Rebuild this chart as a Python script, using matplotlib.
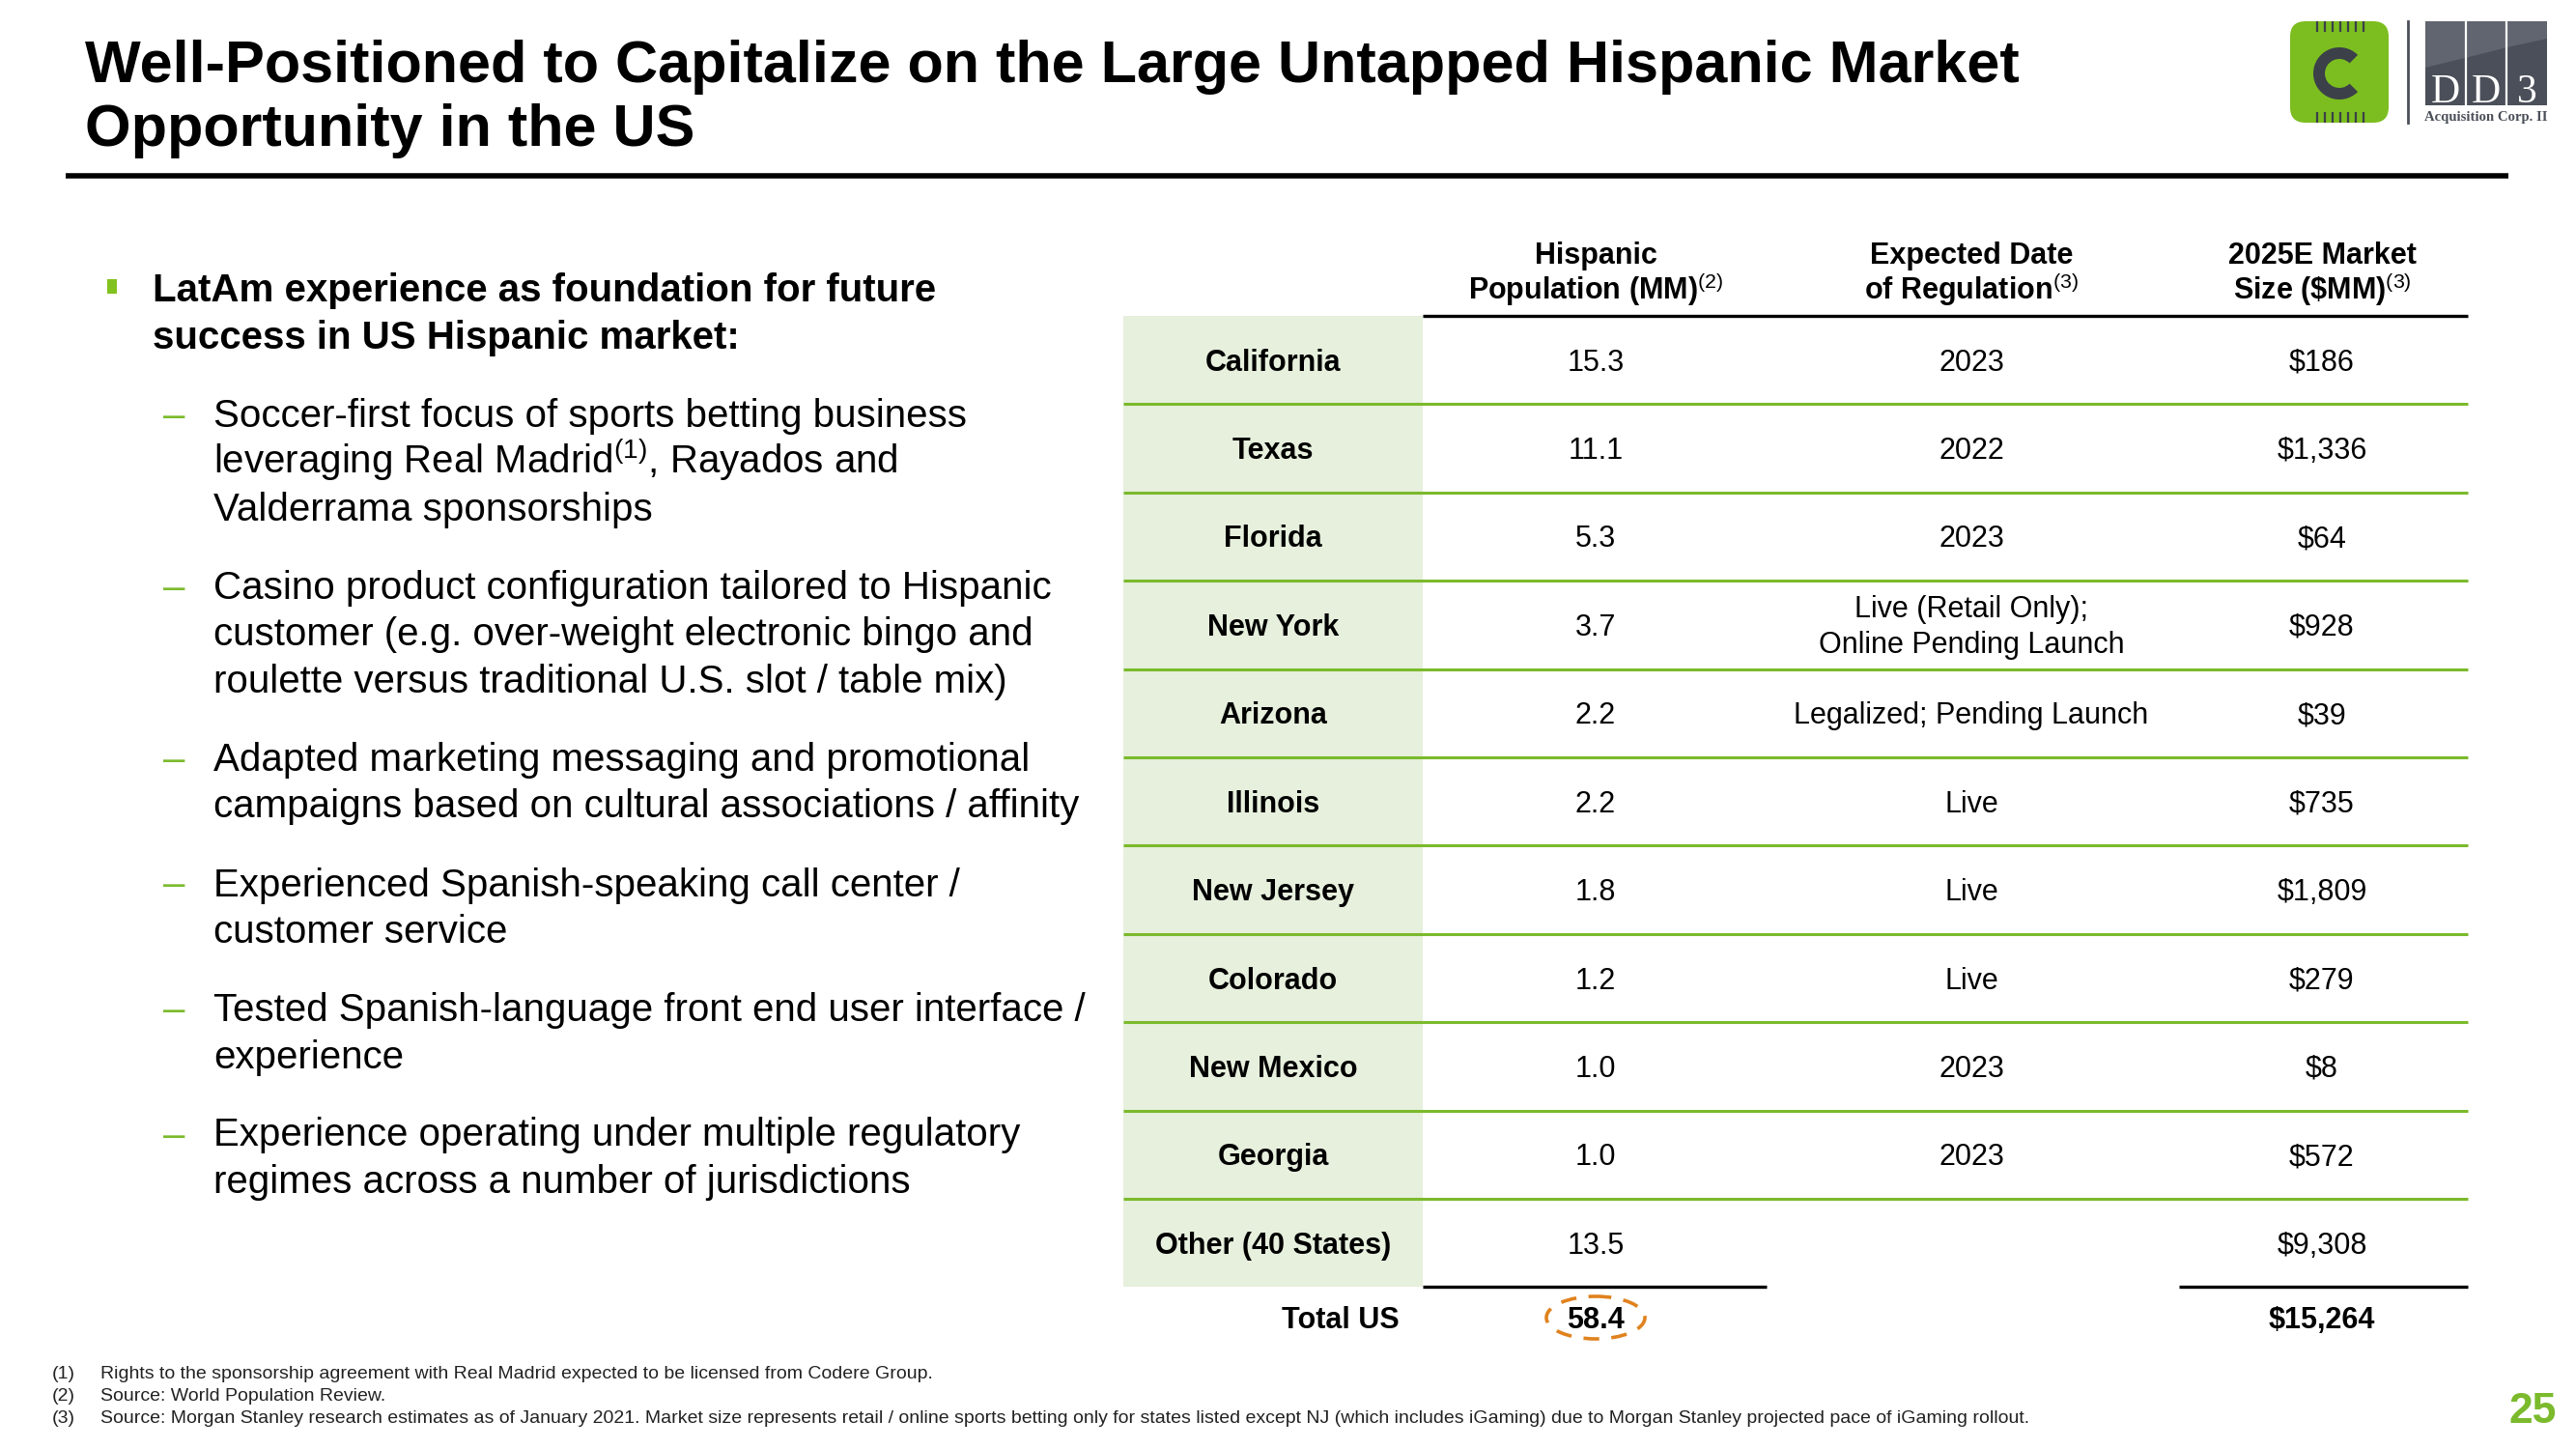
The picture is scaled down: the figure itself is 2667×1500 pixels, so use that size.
import matplotlib
matplotlib.use("Agg")
import matplotlib.pyplot as plt
from matplotlib.patches import Rectangle, FancyBboxPatch, Wedge, Ellipse, Polygon

plt.rcParams["font.family"] = ["Liberation Sans", "DejaVu Sans"]
plt.rcParams["mathtext.fontset"] = "custom"
plt.rcParams["mathtext.rm"] = "Liberation Sans"
plt.rcParams["mathtext.bf"] = "Liberation Sans:bold"

W, H, DPI = 2667, 1500, 200
GREEN = "#7BBA2C"
LABEL_BG = "#E6F0DD"
ORANGE = "#E0821E"
SLATE = "#4B4F59"

# ---- content -------------------------------------------------------------
title_lines = [
    "Well-Positioned to Capitalize on the Large Untapped Hispanic Market",
    "Opportunity in the US",
]
main_bullet = [
    "LatAm experience as foundation for future",
    "success in US Hispanic market:",
]
sub_bullets = [
    ["Soccer-first focus of sports betting business",
     "leveraging Real Madrid$^{\\mathrm{(1)}}$, Rayados and",
     "Valderrama sponsorships"],
    ["Casino product configuration tailored to Hispanic",
     "customer (e.g. over-weight electronic bingo and",
     "roulette versus traditional U.S. slot / table mix)"],
    ["Adapted marketing messaging and promotional",
     "campaigns based on cultural associations / affinity"],
    ["Experienced Spanish-speaking call center /",
     "customer service"],
    ["Tested Spanish-language front end user interface /",
     "experience"],
    ["Experience operating under multiple regulatory",
     "regimes across a number of jurisdictions"],
]

col_headers = [
    ("Hispanic", "Population (MM)$^{\\mathrm{(2)}}$"),
    ("Expected Date", "of Regulation$^{\\mathrm{(3)}}$"),
    ("2025E Market", "Size (\\$MM)$^{\\mathrm{(3)}}$"),
]
states = ["California", "Texas", "Florida", "New York", "Arizona", "Illinois",
          "New Jersey", "Colorado", "New Mexico", "Georgia", "Other (40 States)"]
hispanic_pop = [15.3, 11.1, 5.3, 3.7, 2.2, 2.2, 1.8, 1.2, 1.0, 1.0, 13.5]
reg_dates = ["2023", "2022", "2023", "Live (Retail Only);\nOnline Pending Launch",
             "Legalized; Pending Launch", "Live", "Live", "Live", "2023", "2023", ""]
market_size = [186, 1336, 64, 928, 39, 735, 1809, 279, 8, 572, 9308]
total_label = "Total US"
total_pop = 58.4
total_market = 15264

footnotes = [
    ("(1)", "Rights to the sponsorship agreement with Real Madrid expected to be licensed from Codere Group."),
    ("(2)", "Source: World Population Review."),
    ("(3)", "Source: Morgan Stanley research estimates as of January 2021. Market size represents retail / online "
            "sports betting only for states listed except NJ (which includes iGaming) due to Morgan Stanley "
            "projected pace of iGaming rollout."),
]
page_number = "25"

# ---- canvas in pixel units -------------------------------------------------
fig = plt.figure(figsize=(W / DPI, H / DPI), dpi=DPI)
ax = fig.add_axes([0, 0, 1, 1])
ax.set_xlim(0, W)
ax.set_ylim(H, 0)
ax.axis("off")


def txt(x, y, s, size, **kw):
    # y is the visual centre of the cap height
    ax.text(x, y + 0.36 * size * DPI / 72, s, fontsize=size, va="baseline", **kw)


# title + rule
for i, line in enumerate(title_lines):
    ax.text(88, 85 + i * 66, line, fontsize=22, fontweight="bold", va="baseline")
ax.plot([68, 2597], [182, 182], color="black", lw=2.0, solid_capstyle="butt")

# logo: Codere chip
ax.add_patch(FancyBboxPatch((2371, 22), 102, 105, boxstyle="round,pad=0,rounding_size=16",
                            fc="#7CBD1F", ec="none"))
for k in range(7):
    px = 2399 + k * 8
    ax.plot([px, px], [22, 33], color="#3B4049", lw=0.8, solid_capstyle="butt")
    ax.plot([px, px], [116, 127], color="#3B4049", lw=0.8, solid_capstyle="butt")
ax.add_patch(Wedge((2422, 76), 27, 45, 315, width=12, fc="#3B4049", ec="none"))
ax.plot([2493, 2493], [22, 127], color=SLATE, lw=1.0)
# logo: DD3
ax.add_patch(Rectangle((2511, 22), 126, 87, fc=SLATE, ec="none"))
ax.add_patch(Polygon([(2511, 22), (2637, 22), (2637, 40), (2600, 48), (2560, 58), (2511, 70)],
                     closed=True, fc="#61656F", ec="none"))
for sx in (2553, 2595):
    ax.plot([sx, sx], [22, 109], color="white", lw=0.8)
for cx, ch in zip((2532, 2574, 2616), ("D", "D", "3")):
    ax.text(cx, 106, ch, fontsize=15, color="white", family="Liberation Serif",
            ha="center", va="baseline")
ax.text(2574, 125, "Acquisition Corp. II", fontsize=5.3, color=SLATE, family="Liberation Serif",
        fontweight="bold", ha="center", va="baseline")

# left bullets
LINE_STEP, PARA_GAP = 48.5, 81
BODY = 14.5
y = 298
ax.add_patch(Rectangle((111, y - 9), 10, 15, fc="#82C21E", ec="none"))
for line in main_bullet:
    txt(158, y, line, BODY, fontweight="bold")
    y += LINE_STEP
y += PARA_GAP - LINE_STEP
for para in sub_bullets:
    txt(169, y, "\u2013", BODY, color=GREEN)
    for line in para:
        txt(221, y, line, BODY)
        y += LINE_STEP
    y += PARA_GAP - LINE_STEP

# table
TF = 11
T_LEFT, T_LABEL_R, T_RIGHT = 1163, 1473, 2555
T_TOP, ROW_H = 327, 91.4
col_x = [1318, 1652, 2041, 2404]
n = len(states)
ax.add_patch(Rectangle((T_LEFT, T_TOP), T_LABEL_R - T_LEFT, n * ROW_H, fc=LABEL_BG, ec="none"))
for j, (h1, h2) in enumerate(col_headers):
    txt(col_x[j + 1], 262, h1, TF, fontweight="bold", ha="center")
    txt(col_x[j + 1], 299, h2, TF, fontweight="bold", ha="center")
ax.plot([T_LABEL_R, T_RIGHT], [T_TOP, T_TOP], color="black", lw=1.2, solid_capstyle="butt")

for i in range(n):
    yc = T_TOP + (i + 0.5) * ROW_H
    txt(col_x[0], yc, states[i], TF, fontweight="bold", ha="center")
    txt(col_x[1], yc, f"{hispanic_pop[i]:.1f}", TF, ha="center")
    if "\n" in reg_dates[i]:
        a, b = reg_dates[i].split("\n")
        txt(col_x[2], yc - 18.5, a, TF, ha="center")
        txt(col_x[2], yc + 18.5, b, TF, ha="center")
    elif reg_dates[i]:
        txt(col_x[2], yc, reg_dates[i], TF, ha="center")
    txt(col_x[3], yc, f"${market_size[i]:,}", TF, ha="center")
    if i < n - 1:
        yl = T_TOP + (i + 1) * ROW_H
        ax.plot([T_LEFT, T_RIGHT], [yl, yl], color=GREEN, lw=1.1, solid_capstyle="butt")

y_bot = T_TOP + n * ROW_H
ax.plot([T_LABEL_R, 1829], [y_bot, y_bot], color="black", lw=1.2, solid_capstyle="butt")
ax.plot([2256, T_RIGHT], [y_bot, y_bot], color="black", lw=1.2, solid_capstyle="butt")

y_tot = 1364
txt(1449, y_tot, total_label, TF, fontweight="bold", ha="right")
txt(col_x[1], y_tot, f"{total_pop:.1f}", TF, fontweight="bold", ha="center")
txt(col_x[3], y_tot, f"${total_market:,}", TF, fontweight="bold", ha="center")
ax.add_patch(Ellipse((col_x[1], y_tot), 102, 44, fill=False, ec=ORANGE, lw=1.3,
                     linestyle=(0, (4.5, 3.5))))

# footnotes + page number
for k, (num, note) in enumerate(footnotes):
    fy = 1420 + k * 23
    txt(54, fy, num, 7, color="#222222")
    txt(104, fy, note, 7, color="#222222")
ax.text(2647, 1473, page_number, fontsize=16, fontweight="bold", color=GREEN,
        ha="right", va="baseline")

fig.savefig("out.png", dpi=DPI)
